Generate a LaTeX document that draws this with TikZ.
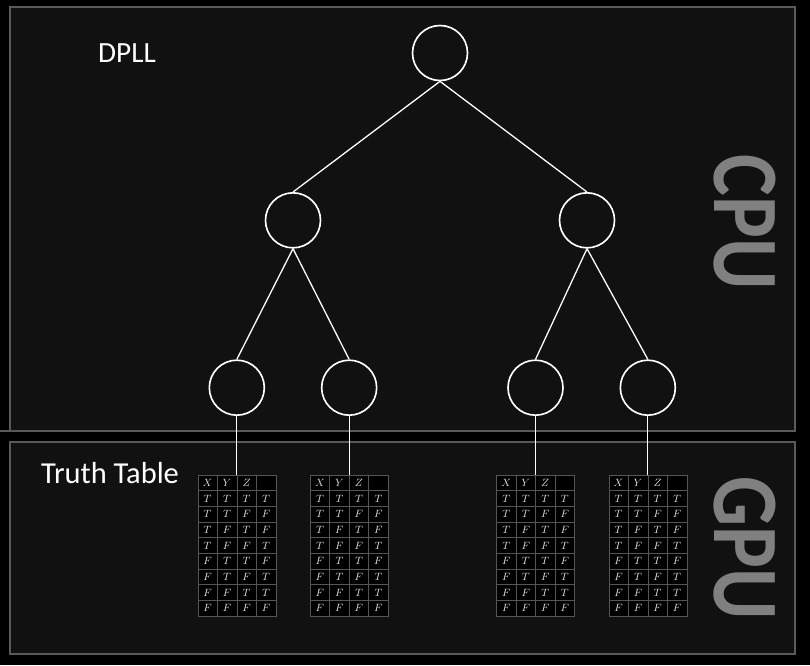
\documentclass[tikz,border=0pt]{standalone}
\usepackage{fontspec}
\setmainfont{Carlito}
\usetikzlibrary{calc,positioning}

\definecolor{panelbg}{HTML}{111111}
\definecolor{panelline}{HTML}{5A5A5A}
\definecolor{labelgray}{HTML}{808080}
\definecolor{cellline}{HTML}{555555}
\definecolor{celltext}{HTML}{E0E0E0}

\tikzset{
  panel/.style = {fill = panelbg, draw = panelline, line width = 1.5pt},
  vertex/.style = {shape = circle, draw = white, line width = 1.4pt, minimum size = 1.65cm, inner sep = 0pt},
  branch/.style = {draw = white, line width = 1.1pt},
  ttframe/.style = {draw = cellline, fill = black, minimum width = 2.34cm, minimum height = 4.23cm, inner sep = 0pt, outer sep = 0pt},
  ttcell/.style = {draw = cellline, minimum width = 0.585cm, minimum height = 0.47cm, inner sep = 0pt, outer sep = 0pt,
    text = celltext, font = \fontsize{9}{10}\selectfont, anchor = north west},
  hwlabel/.style = {text = labelgray, font = \bfseries\fontsize{80}{80}\selectfont, rotate = -90, inner sep = 0pt},
  heading/.style = {text = white, font = \fontsize{25}{28}\selectfont, inner sep = 0pt}
}

% cells of one truth table, hung from the frame node #1
\newcommand\truthtable[1]{%
  \foreach \rowvals [count = \r from 0] in {{X,Y,Z,{}},{T,T,T,T},{T,T,F,F},{T,F,T,F},{T,F,F,T},{F,T,T,F},{F,T,F,T},{F,F,T,T},{F,F,F,F}}{
    \foreach \v [count = \c from 0] in \rowvals
      \node[ttcell] at ($(#1.north west)+(\c*19.5,\r*15.67)$) {$\v$};
  }}

\begin{document}
\begin{tikzpicture}[x = {(0.03cm,0)}, y = {(0,-0.03cm)},
    grow = down, level distance = 5.02cm,
    level 1/.style = {sibling distance = 8.82cm},
    level 2/.style = {sibling distance = 3.37cm},
    edge from parent/.style = {branch},
    edge from parent path = {(\tikzparentnode.south) -- (\tikzchildnode.north)}]
    \fill[black] (0,0) rectangle (810,665);
    \useasboundingbox (0,0) rectangle (810,665);

    % panels
    \draw[panel] (10,7) rectangle (795,431);
    \draw[panel] (0,431) -- (10,431);
    \draw[panel] (10,442) rectangle (795,654);

    \node[heading] (dplllabel) at (127,53) {DPLL};
    \node[heading, font = \fontsize{26}{30}\selectfont] (ttlabel) at (110,473) {Truth Table};
    \node[hwlabel] (cpu) at (745,222) {\scalebox{0.84}[1]{CPU}};
    \node[hwlabel] (gpu) at (745,548) {\scalebox{0.84}[1]{GPU}};

    % search tree
    \node[vertex] (dpll) at (440,53) {}
        child{ node[vertex]{}
            child{ node[vertex]{} }
            child{ node[vertex]{} }}
        child{ node[vertex]{}
            child[xshift = 0.14cm]{ node[vertex]{} }
            child[xshift = 0.14cm]{ node[vertex]{} }};

    % truth tables under the leaves
    \node[ttframe, below = 1.77cm of dpll-1-1] (tab1) {};
    \node[ttframe, below = 1.77cm of dpll-1-2] (tab2) {};
    \node[ttframe, below = 1.77cm of dpll-2-1] (tab3) {};
    \node[ttframe, below = 1.77cm of dpll-2-2] (tab4) {};
    \draw[branch] (dpll-1-1) -- (tab1);
    \draw[branch] (dpll-1-2) -- (tab2);
    \draw[branch] (dpll-2-1) -- (tab3);
    \draw[branch] (dpll-2-2) -- (tab4);
    \truthtable{tab1}
    \truthtable{tab2}
    \truthtable{tab3}
    \truthtable{tab4}
\end{tikzpicture}
\end{document}
